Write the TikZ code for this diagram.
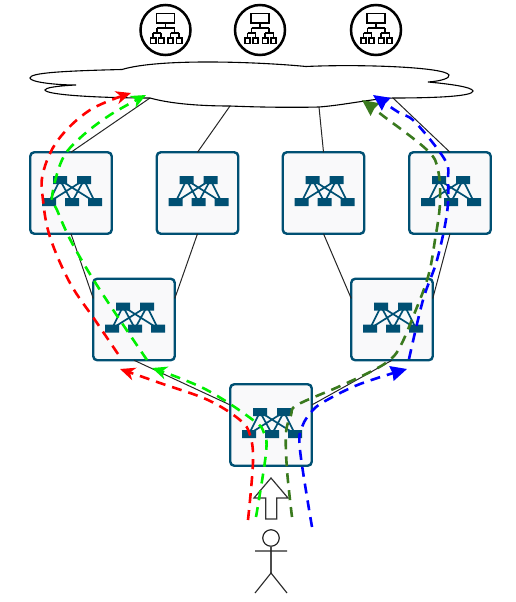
\documentclass[tikz,border=0pt]{standalone}
\usetikzlibrary{arrows.meta}
\definecolor{swblue}{HTML}{005073}
\definecolor{swfill}{HTML}{F9F9FA}
\definecolor{dkgreen}{HTML}{3A7A1E}
\definecolor{brightgreen}{HTML}{00F000}
\tikzset{
  x=1pt,y=-1pt,
  swbox/.style={draw=swblue,fill=swfill,line width=2.4pt,rounded corners=4pt,minimum size=81.5pt,inner sep=0pt,outer sep=0pt},
  hostnode/.style={draw=black,fill=white,circle,line width=2.5pt,minimum size=50pt,inner sep=0pt,outer sep=0pt},
  link/.style={draw=black!85,line width=1pt},
  flowline/.style={line width=2.6pt,dash pattern=on 10pt off 7pt,-{Stealth[length=15pt,width=13pt,inset=4.5pt]}},
  flowbig/.style={line width=2.6pt,dash pattern=on 10pt off 7pt,-{Stealth[length=16pt,width=15pt,inset=1pt]}},
  swicon/.pic={
    \draw[swblue,line width=1.7pt]
      (-11,-13) -- (-22,9) (-11,-13) -- (1,9) (-11,-13) -- (24,9)
      (13,-13) -- (-22,9) (13,-13) -- (1,9) (13,-13) -- (24,9);
    \fill[swblue] (-18,-17) rectangle (-4,-9) (6,-17) rectangle (20,-9)
      (-29,5) rectangle (-15,13) (-6,5) rectangle (8,13) (17,5) rectangle (31,13);
  },
  hosticon/.pic={
    \draw[black,line width=1.8pt]
      (-9,-16.5) rectangle (9,-7.3)
      (0,-7.3) -- (0,-2) (-8.5,-2) -- (9,-2)
      (-8.5,-2) -- (-8.5,3) (9,-2) -- (9,3)
      (-12.5,3) -- (-4.5,3) (5,3) -- (13.5,3)
      (-12.5,3) -- (-12.5,7.7) (-4.5,3) -- (-4.5,7.7) (5,3) -- (5,7.7) (13.5,3) -- (13.5,7.7)
      (-15,7.7) rectangle (-9.8,13.5) (-7,7.7) rectangle (-1.8,13.5)
      (2.4,7.7) rectangle (7.6,13.5) (10.9,7.7) rectangle (16.1,13.5);
  }
}
\begin{document}
\begin{tikzpicture}
\useasboundingbox (0,0) rectangle (515,602);
% switches
\node[swbox] (s1) at (71,193) {};
\node[swbox] (s2) at (197.5,193) {};
\node[swbox] (s3) at (323.5,193) {};
\node[swbox] (s4) at (450,193) {};
\node[swbox] (s5) at (134,319.5) {};
\node[swbox] (s6) at (392,319.5) {};
\node[swbox] (s7) at (271,425) {};
\foreach \n in {s1,s2,s3,s4,s5,s6,s7} \pic at (\n) {swicon};
% cloud anchor points
\coordinate (c1) at (150,98);
\coordinate (c2) at (230,106);
\coordinate (c3) at (319,107);
\coordinate (c4) at (393,98);
% links
\draw[link] (c1) -- (s1.north);
\draw[link] (c2) -- (s2.north);
\draw[link] (c3) -- (s3.north);
\draw[link] (c4) -- (s4.north);
\draw[link] (s1.south) -- ([yshift=21pt]s5.west);
\draw[link] (s2.south) -- ([yshift=21pt]s5.east);
\draw[link] (s3.south) -- ([yshift=21pt]s6.west);
\draw[link] (s4.south) -- ([yshift=21pt]s6.east);
\draw[link] (s5.south) -- ([yshift=20pt]s7.west);
\draw[link] (s6.south) -- ([yshift=20pt]s7.east);
% cloud
\draw[fill=white,draw=black,line width=1.1pt]
  (122,69.5) .. controls (60,71) and (30,73) .. (30,78)
  .. controls (30,82) and (55,85) .. (76,85)
  .. controls (55,86) and (45,88) .. (45,90)
  .. controls (46,95) and (100,98) .. (150,98)
  .. controls (175,105) and (210,106) .. (230,106)
  .. controls (265,107.5) and (300,107.5) .. (319,107)
  .. controls (345,105) and (370,99) .. (393,98)
  .. controls (440,98) and (473,96) .. (473,91)
  .. controls (472,87) and (450,84) .. (428,82)
  .. controls (442,81) and (450,78) .. (449,75)
  .. controls (445,67) and (360,64) .. (306,66.5)
  .. controls (260,62) and (160,58) .. (122,69.5) -- cycle;
% hosts
\node[hostnode] (h1) at (165.5,30) {};
\node[hostnode] (h2) at (260,30) {};
\node[hostnode] (h3) at (376,30) {};
\foreach \n in {h1,h2,h3} \pic at (\n) {hosticon};
% person
\node[draw=black!85,circle,line width=1.2pt,minimum size=16.5pt,inner sep=0pt,outer sep=0pt] (head) at (271,538) {};
\coordinate (hip) at (271,573);
\coordinate (armL) at (255,551);
\coordinate (armR) at (287,551);
\coordinate (legL) at (255,593);
\coordinate (legR) at (287,593);
\draw[black!70,line width=1.6pt] (head.south) -- (hip);
\draw[black!85,line width=1.1pt] (armL) -- (armR) (legL) -- (hip) -- (legR);
% up arrow
\draw[black!80,fill=white,line width=1.2pt,line join=miter]
  (271,478) -- (288,498) -- (276.7,498) -- (276.7,519) -- (265.7,519) -- (265.7,498) -- (254,498) -- cycle;
% flows
\coordinate (r0) at (248,520);
\coordinate (r1) at (120,369);
\coordinate (r2) at (118,354);
\coordinate (r3) at (131,93);
\draw[red,flowline] plot[smooth,tension=.6] coordinates {(r0) (253,462) (250,435) (240,420) (208,400) (160,383) (r1)};
\draw[red,flowline] plot[smooth,tension=.6] coordinates {(r2) (95,320) (70,283) (50,237) (43,200) (43,173) (58,140) (90,110) (r3)};
\coordinate (g0) at (256,517);
\coordinate (g1) at (152,368);
\coordinate (g2) at (147,360);
\coordinate (g3) at (146,95);
\draw[brightgreen,flowline] plot[smooth,tension=.6] coordinates {(g0) (266,453) (264,433) (253,420) (205,389) (g1)};
\draw[brightgreen,flowline] plot[smooth,tension=.6] coordinates {(g2) (100,290) (72,243) (57,210) (52,197) (62,160) (80,138) (110,115) (g3)};
\coordinate (d0) at (292,517);
\coordinate (d1) at (362,100);
\draw[dkgreen,flowbig] plot[smooth,tension=.6] coordinates {(d0) (287,470) (286,433) (291,415) (297,405) (338,387) (372,371) (391,359) (401,345) (413,317) (428,277) (435,240) (440,203) (438,170) (427,150) (382,115) (d1)};
\coordinate (b0) at (312,527);
\coordinate (b1) at (407,369);
\coordinate (b2) at (409,359);
\coordinate (b3) at (373,95);
\draw[blue,flowbig] plot[smooth,tension=.6] coordinates {(b0) (300,450) (302,427) (313,410) (327,400) (360,384) (b1)};
\draw[blue,flowbig] plot[smooth,tension=.6] coordinates {(b2) (423,300) (437,260) (447,213) (448,180) (445,160) (415,122) (398,112) (b3)};
\end{tikzpicture}
\end{document}
